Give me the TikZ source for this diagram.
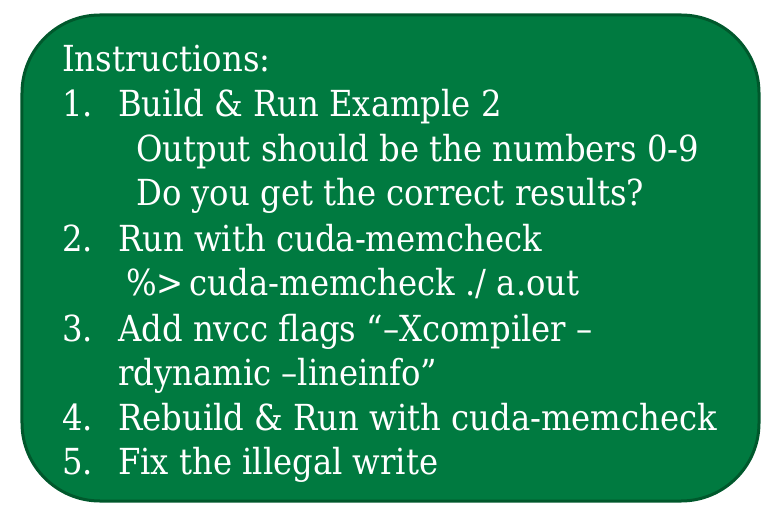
\documentclass[tikz,border=0pt]{standalone}
\usepackage{fontspec}
\setmainfont{DejaVu Serif Condensed}
\usepackage{tikz}
\usetikzlibrary{positioning}
\definecolor{boxfill}{RGB}{0,122,64}
\definecolor{boxline}{RGB}{0,88,44}
\tikzset{panel/.style={shape=rectangle, draw=boxline, fill=boxfill, line width=3bp, rounded corners=78bp, inner sep=0pt, minimum width=737bp, minimum height=486bp},
  textline/.style={anchor=base west, text=white, inner sep=0pt, font=\fontsize{36}{43}\selectfont}}

\begin{document}
\begin{tikzpicture}[x=1bp, y=-1bp]
\useasboundingbox (0,0) rectangle (782,519);
\node[panel] (box) at (390.5,258) {};
\begin{scope}[every node/.style={textline}]
    \node (title) at (62,72) {Instructions:};
    \node (n1) at (62,117) {1.};
    \node (s1) at (118,117) {Build \& Run Example 2};
    \node (s1a) at (136,162) {Output should be the numbers 0-9};
    \node (s1b) at (136,206) {Do you get the correct results?};
    \node (n2) at (62,252) {2.};
    \node (s2) at (118,252) {Run with cuda-memcheck};
    \node (s2a) at (126,296) {\%>\,cuda-memcheck ./ a.out};
    \node (n3) at (62,341) {3.};
    \node (s3) at (118,341) {Add nvcc flags “–Xcompiler –};
    \node (s3a) at (118,385) {rdynamic –lineinfo”};
    \node (n4) at (62,430) {4.};
    \node (s4) at (118,430) {Rebuild \& Run with cuda-memcheck};
    \node (n5) at (62,474) {5.};
    \node (s5) at (118,474) {Fix the illegal write};
\end{scope}
\end{tikzpicture}
\end{document}
